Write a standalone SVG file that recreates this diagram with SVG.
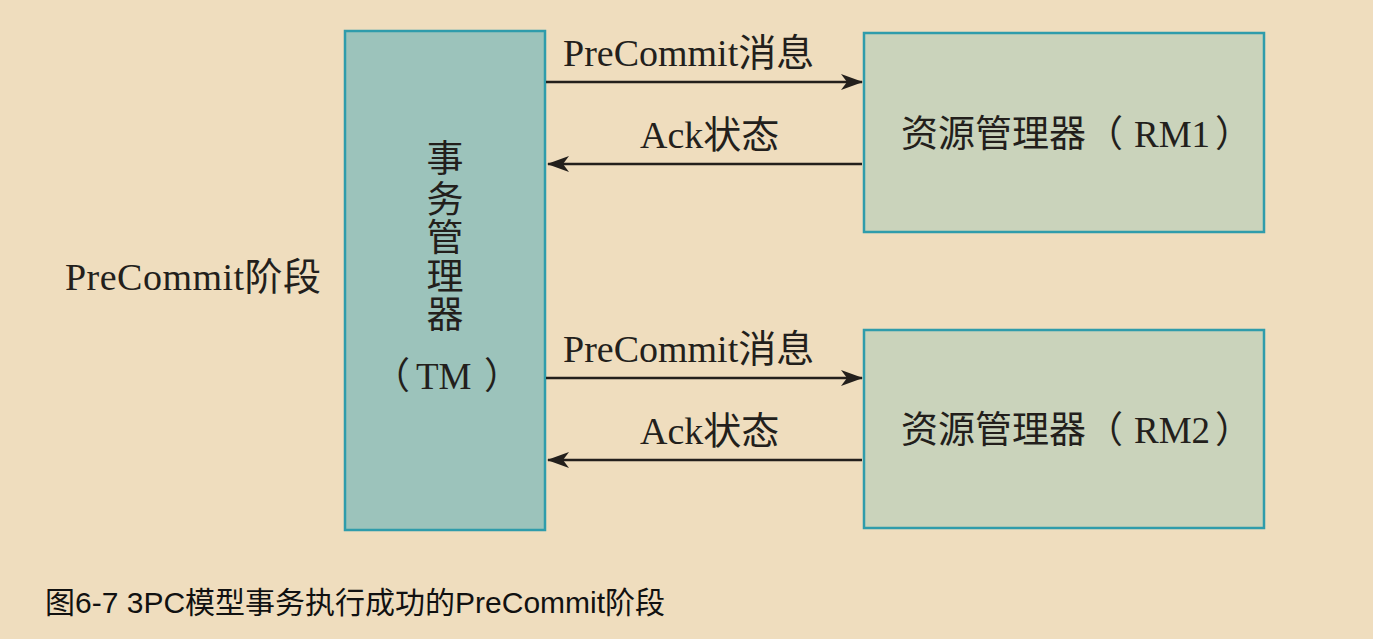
<svg xmlns="http://www.w3.org/2000/svg" width="1373" height="639" viewBox="0 0 1373 639">
<style>
.box{stroke:#2f9cab;stroke-width:2.5}
.tm{fill:#9cc3bb}
.rm{fill:#cad3bb}
.t{font-family:"Liberation Serif","Noto Sans CJK SC",serif;font-size:37px;fill:#231f1c}
.l{font-size:38px}
.cap{font-family:"Liberation Sans","Noto Sans CJK SC",sans-serif;font-size:30px;fill:#111}
.ln{stroke:#231f1c;stroke-width:2.5;fill:none}
</style>
<defs>
<marker id="ah" viewBox="0 0 22 16" refX="21" refY="8" markerWidth="22" markerHeight="16" markerUnits="userSpaceOnUse" orient="auto">
<path d="M0,0 L22,8 L0,16 L6,8 Z" fill="#231f1c"/>
</marker>
</defs>
<rect width="1373" height="639" fill="#efddbe"/>
<g id="tm">
<rect class="box tm" x="345" y="31" width="200" height="499"/>
<text class="t" x="445" y="172" text-anchor="middle">事</text>
<text class="t" x="445" y="213" text-anchor="middle">务</text>
<text class="t" x="445" y="251" text-anchor="middle">管</text>
<text class="t" x="445" y="290" text-anchor="middle">理</text>
<text class="t" x="445" y="328" text-anchor="middle">器</text>
<text class="t" y="389"><tspan x="373">（</tspan><tspan x="416">TM</tspan><tspan x="484">）</tspan></text>
</g>
<g id="rm1">
<rect class="box rm" x="864" y="33" width="400" height="199"/>
<text class="t" y="147"><tspan x="901">资源管理器（</tspan><tspan x="1134">RM1</tspan><tspan x="1215">）</tspan></text>
</g>
<g id="rm2">
<rect class="box rm" x="864" y="330" width="400" height="198"/>
<text class="t" y="443"><tspan x="901">资源管理器（</tspan><tspan x="1134">RM2</tspan><tspan x="1215">）</tspan></text>
</g>
<g id="phase">
<text class="t l" x="65" y="290" textLength="256" lengthAdjust="spacing">PreCommit阶段</text>
</g>
<g id="connectors">
<line class="ln" x1="546" y1="82" x2="862" y2="82" marker-end="url(#ah)"/>
<line class="ln" x1="862" y1="164" x2="548" y2="164" marker-end="url(#ah)"/>
<line class="ln" x1="546" y1="378" x2="862" y2="378" marker-end="url(#ah)"/>
<line class="ln" x1="862" y1="460" x2="548" y2="460" marker-end="url(#ah)"/>
<text class="t l" x="563" y="66">PreCommit消息</text>
<text class="t l" x="640" y="148">Ack状态</text>
<text class="t l" x="563" y="362">PreCommit消息</text>
<text class="t l" x="640" y="444">Ack状态</text>
</g>
<g id="caption">
<text class="cap" x="45" y="613">图6-7 3PC模型事务执行成功的PreCommit阶段</text>
</g>
</svg>
